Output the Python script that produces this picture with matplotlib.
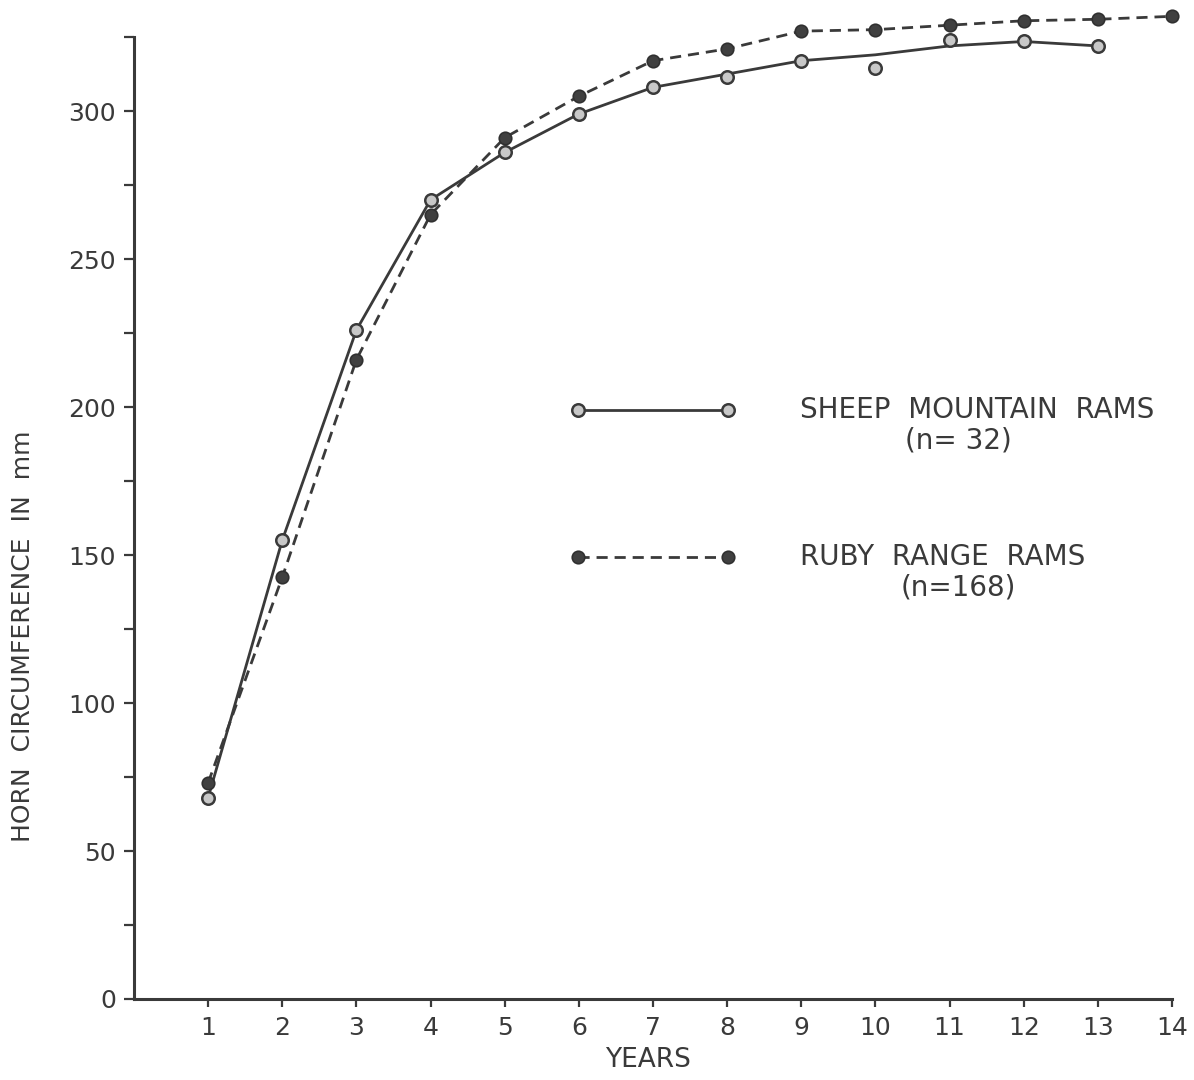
import matplotlib
matplotlib.use("Agg")
import matplotlib.pyplot as plt
from matplotlib.ticker import MultipleLocator

years = [1, 2, 3, 4, 5, 6, 7, 8, 9, 10, 11, 12, 13, 14]
sheep_years = years[:13]
sheep_values = [68, 155, 226, 270, 286, 299, 308, 311.5, 317, 314.5, 324, 323.5, 322]
# smoothed hand-drawn curve through the Sheep Mountain points
sheep_curve = [68, 155, 226, 270, 286, 299, 308, 312.5, 317, 319, 322, 323.5, 322]
ruby_values = [73, 142.5, 216, 265, 291, 305, 317, 321, 327, 327.5, 329, 330.5, 331, 332]

x_ticks = list(range(1, 15))
y_ticks = [0, 50, 100, 150, 200, 250, 300]

legend_labels = ["SHEEP  MOUNTAIN  RAMS", "(n= 32)", "RUBY  RANGE  RAMS", "(n=168)"]

ink = "#3a3a3a"
fig = plt.figure(figsize=(11.94, 10.8), dpi=100)
ax = fig.add_axes([0.1122, 0.075, 0.8694, 0.8907])

ax.plot(sheep_years, sheep_curve, color=ink, lw=2.0, zorder=2, clip_on=False)
ax.plot(sheep_years, sheep_values, ls="none", marker="o", ms=9, mfc="#c8c8c8",
        mec=ink, mew=1.8, zorder=3, clip_on=False)
ax.plot(years, ruby_values, color=ink, lw=2.0, ls=(0, (4, 2.5)), marker="o", ms=9,
        mfc="#404040", mec="#303030", mew=1.2, zorder=3, clip_on=False)

ax.set_xlim(0, 14)
ax.set_ylim(0, 325)
for s in ["top", "right"]:
    ax.spines[s].set_visible(False)
for s in ["left", "bottom"]:
    ax.spines[s].set_linewidth(2.2)
    ax.spines[s].set_color(ink)

ax.set_xticks(x_ticks)
ax.set_xticklabels([str(v) for v in x_ticks])
ax.set_yticks(y_ticks)
ax.set_yticklabels([str(v) for v in y_ticks])
ax.yaxis.set_minor_locator(MultipleLocator(25))
ax.tick_params(axis="both", which="both", color=ink, width=1.6, labelcolor=ink,
               labelsize=18)
ax.tick_params(axis="y", which="major", length=7, pad=6)
ax.tick_params(axis="y", which="minor", length=7)
ax.tick_params(axis="x", which="major", length=6, pad=6.5)

ax.set_xlabel("YEARS", fontsize=19, color=ink)
ax.xaxis.set_label_coords(0.495, -0.05)
ax.set_ylabel("HORN  CIRCUMFERENCE  IN  mm", fontsize=18, color=ink)
ax.yaxis.set_label_coords(-0.095, 0.377)

# legend drawn by hand
tr = ax.transAxes
ax.plot([0.4277, 0.5723], [0.612, 0.612], transform=tr, color=ink, lw=2.0,
        marker="o", ms=9, mfc="#c8c8c8", mec=ink, mew=1.8, clip_on=False)
ax.plot([0.4277, 0.5723], [0.4595, 0.4595], transform=tr, color=ink, lw=2.0,
        ls=(0, (4, 2.5)), marker="o", ms=9, mfc="#404040", mec="#303030", mew=1.2,
        clip_on=False)
ax.text(0.6416, 0.612, legend_labels[0], transform=tr, fontsize=20, color=ink,
        ha="left", va="center")
ax.text(0.794, 0.581, legend_labels[1], transform=tr, fontsize=20, color=ink,
        ha="center", va="center")
ax.text(0.6416, 0.4595, legend_labels[2], transform=tr, fontsize=20, color=ink,
        ha="left", va="center")
ax.text(0.794, 0.428, legend_labels[3], transform=tr, fontsize=20, color=ink,
        ha="center", va="center")

fig.savefig("out.png", dpi=100)
